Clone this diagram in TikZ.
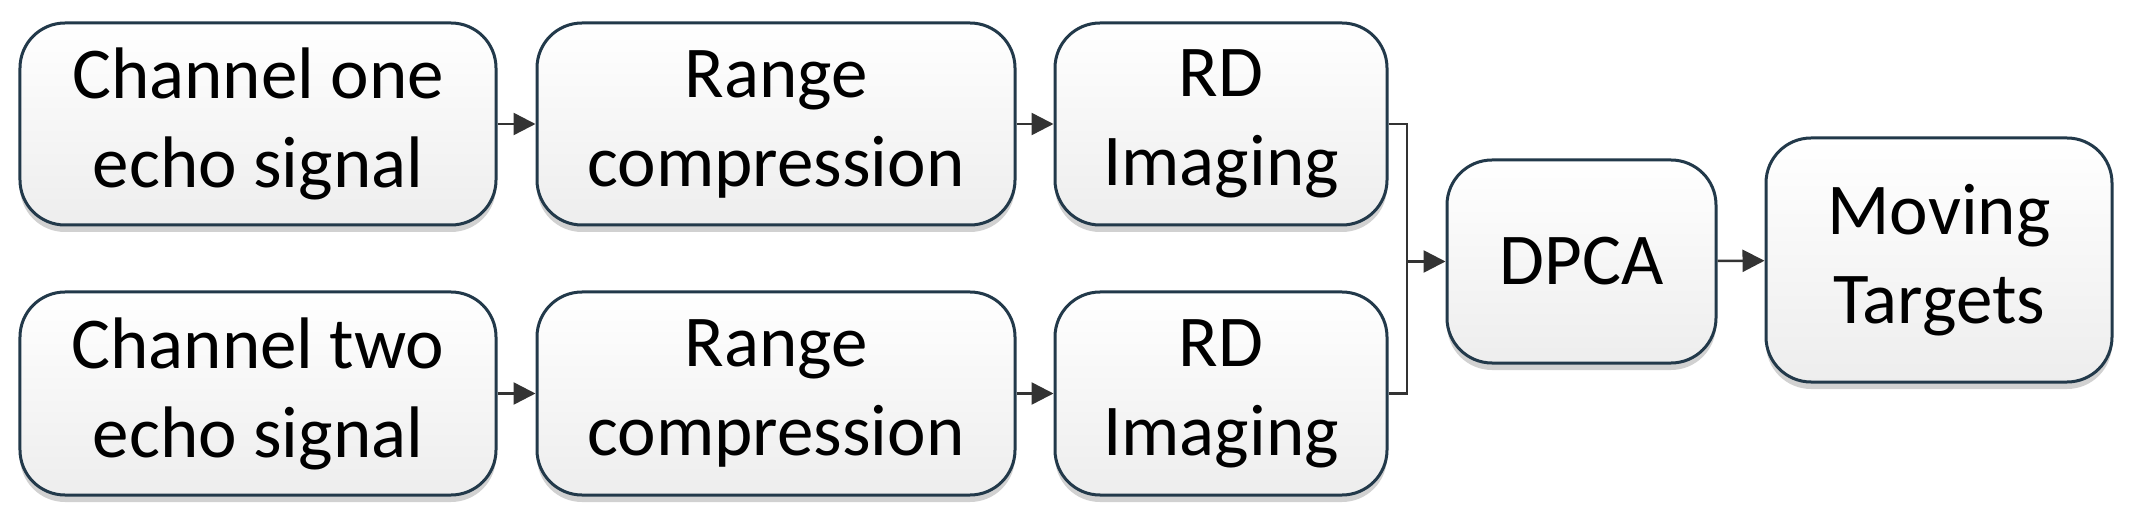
\documentclass[tikz,border=0pt]{standalone}
\usepackage{fontspec}
\setmainfont{Carlito}
\usetikzlibrary{arrows.meta,shadows}
\definecolor{boxline}{HTML}{22394A}
\definecolor{arrowcol}{HTML}{333333}
\begin{document}
\begin{tikzpicture}[x=1bp,y=-1bp,
  blk/.style={draw=boxline, line width=3bp, rounded corners=45bp,
    top color=white, bottom color=black!7, inner sep=0pt, align=center,
    font=\fontsize{73bp}{89bp}\selectfont,
    drop shadow={shadow xshift=0bp, shadow yshift=-7bp, fill=black!18, opacity=1}},
  conn/.style={draw=arrowcol, line width=2.5bp},
  arr/.style={conn, -{Triangle[length=22bp,width=22bp]}}]
\useasboundingbox (0,0) rectangle (2138,526);
\node[blk, minimum width=476bp, minimum height=202bp] (c1) at (258,124) {Channel one\\echo signal};
\node[blk, minimum width=478bp, minimum height=202bp] (r1) at (776,124) {Range\\compression};
\node[blk, minimum width=332bp, minimum height=202bp] (i1) at (1221,124) {RD\\Imaging};
\node[blk, minimum width=476bp, minimum height=203bp] (c2) at (258,393.5) {Channel two\\echo signal};
\node[blk, minimum width=478bp, minimum height=203bp] (r2) at (776,393.5) {Range\\compression};
\node[blk, minimum width=332bp, minimum height=203bp] (i2) at (1221,393.5) {RD\\Imaging};
\node[blk, minimum width=269bp, minimum height=203bp] (d) at (1581.5,261.5) {DPCA};
\node[blk, minimum width=346bp, minimum height=244bp] (m) at (1939,260) {Moving\\Targets};
\coordinate (bus) at (1407,261.5);
\draw[arr] (c1) -- (r1);
\draw[arr] (r1) -- (i1);
\draw[arr] (c2) -- (r2);
\draw[arr] (r2) -- (i2);
\draw[conn] (i1.east) -| (bus) |- (i2.east);
\draw[arr] (bus) -- (d.west);
\draw[arr] (d) -- (m);
\end{tikzpicture}
\end{document}
